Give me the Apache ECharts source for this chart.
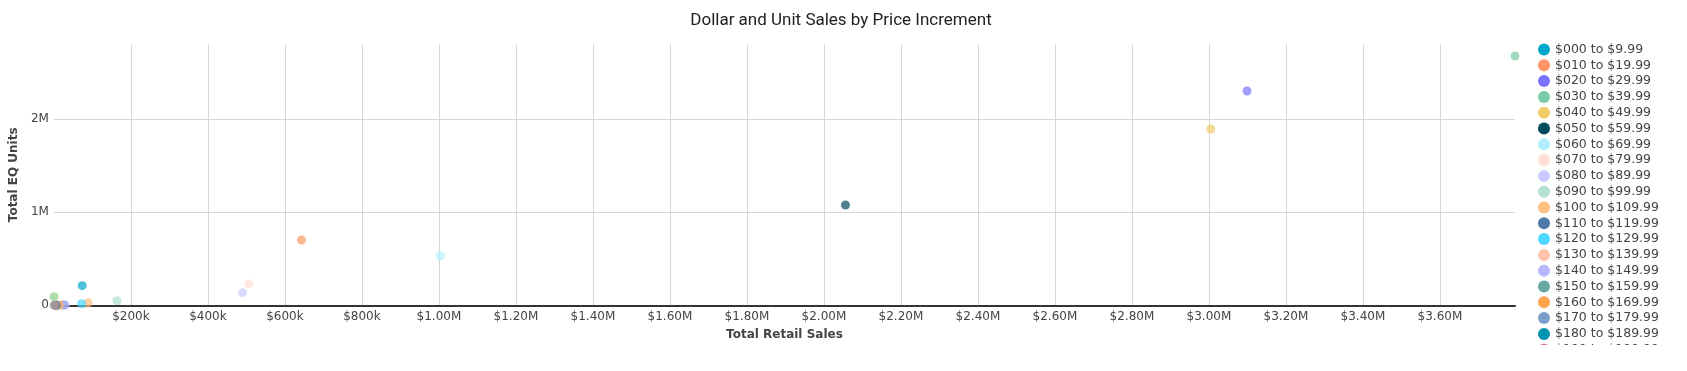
<!DOCTYPE html>
<html>
<head>
<meta charset="utf-8">
<script src="https://cdn.jsdelivr.net/npm/echarts@6/dist/echarts.min.js"></script>
<style>html,body{margin:0;padding:0;background:#fff}#c{width:1687px;height:371px}</style>
</head>
<body>
<div id="c"></div>
<script>
// Price increment categories (series)
const categories = [
  "$000 to $9.99","$010 to $19.99","$020 to $29.99","$030 to $39.99","$040 to $49.99",
  "$050 to $59.99","$060 to $69.99","$070 to $79.99","$080 to $89.99","$090 to $99.99",
  "$100 to $109.99","$110 to $119.99","$120 to $129.99","$130 to $139.99","$140 to $149.99",
  "$150 to $159.99","$160 to $169.99","$170 to $179.99","$180 to $189.99","$190 to $199.99",
  "$200 to $209.99","$210 to $219.99"
];
// Total Retail Sales ($)
const retailSales = [
  73600, 643000, 3099000, 3795000, 3005000,
  2056000, 1004000, 506600, 490000, 164000,
  89000, 25000, 72000, 15000, 30000,
  8000, 13000, 6000, 5000, 3000,
  500, 300
];
// Total EQ Units
const eqUnits = [
  211000, 702000, 2304000, 2680000, 1896000,
  1078000, 533000, 232000, 136000, 49000,
  28000, 3000, 17000, 3000, 2500,
  1500, 1500, 800, 600, 300,
  92000, 1500
];
const colors = [
  "#00a6ca","#ff9466","#7b73ff","#7acca8","#f2cc66",
  "#004c5c","#b3f0ff","#ffe0d6","#ccccff","#b3e0d0",
  "#ffbf80","#4f77a8","#4dd9ff","#ffc2aa","#b8b8ff",
  "#66a8a0","#ffa64d","#78a0c8","#0094b3","#e87070",
  "#8fcf8f","#9aa0a0"
];
const xTickInterval = 200000;
const yTickInterval = 1000000;

const chart = echarts.init(document.getElementById('c'), null, {renderer: 'canvas'});
const fontFam = '"DejaVu Sans", Verdana, sans-serif';
const series = categories.map((name, i) => ({
  name: name,
  type: 'scatter',
  data: [[retailSales[i], eqUnits[i]]],
  symbolSize: 9,
  itemStyle: {color: colors[i], opacity: 0.7},
  emphasis: {disabled: true}
}));

chart.setOption({
  animation: false,
  color: colors,
  title: {
    text: 'Dollar and Unit Sales by Price Increment',
    left: 836, textAlign: 'center', top: 7,
    textStyle: {fontFamily: '"Liberation Sans Narrow", Roboto, sans-serif', fontSize: 17, fontWeight: 'normal', color: '#222'}
  },
  grid: {left: 51.6, right: 172, top: 44.3, bottom: 65.7, containLabel: false},
  legend: {
    type: 'scroll', orient: 'vertical', left: 1533, top: 38, height: 303,
    icon: 'circle', itemWidth: 12, itemHeight: 12, itemGap: 2.8,
    itemStyle: {opacity: 1},
    pageIconSize: 0, pageButtonGap: 0, pageButtonItemGap: 0,
    pageFormatter: '', pageTextStyle: {color: 'rgba(0,0,0,0)', fontSize: 1},
    textStyle: {fontFamily: fontFam, fontSize: 12.5, color: '#444', lineHeight: 12},
    data: categories.map(n => ({name: n, itemStyle: {opacity: 1}}))
  },
  xAxis: {
    type: 'value', min: 0, max: 3795000, interval: xTickInterval,
    name: 'Total Retail Sales', nameLocation: 'middle', nameGap: 24,
    nameTextStyle: {fontFamily: fontFam, fontSize: 12, fontWeight: 'bold', color: '#444'},
    axisLine: {show: true, onZero: false, lineStyle: {color: '#333', width: 2}},
    axisTick: {show: false},
    axisLabel: {
      fontFamily: fontFam, fontSize: 12, color: '#444', margin: 6,
      showMinLabel: false, showMaxLabel: false,
      formatter: v => {
        if (v === 0) return '';
        if (v % xTickInterval !== 0) return '';
        if (v >= 1e6) return '$' + (v / 1e6).toFixed(2) + 'M';
        return '$' + Math.round(v / 1000) + 'k';
      }
    },
    splitLine: {show: true, showMinLine: false, showMaxLine: false, lineStyle: {color: '#d6d6d6', width: 1}}
  },
  yAxis: {
    type: 'value', min: 0, max: 2806000, interval: yTickInterval,
    name: 'Total EQ Units', nameLocation: 'middle', nameGap: 31, nameRotate: 90,
    nameTextStyle: {fontFamily: fontFam, fontSize: 12, fontWeight: 'bold', color: '#444'},
    axisLine: {show: false},
    axisTick: {show: false},
    axisLabel: {
      fontFamily: fontFam, fontSize: 12, color: '#444', margin: 5,
      showMaxLabel: false,
      formatter: v => {
        if (v % yTickInterval !== 0) return '';
        if (v === 0) return '0';
        return (v / 1e6) + 'M';
      }
    },
    splitLine: {show: true, showMaxLine: false, lineStyle: {color: '#d6d6d6', width: 1}}
  },
  series: series
});
</script>
</body>
</html>
